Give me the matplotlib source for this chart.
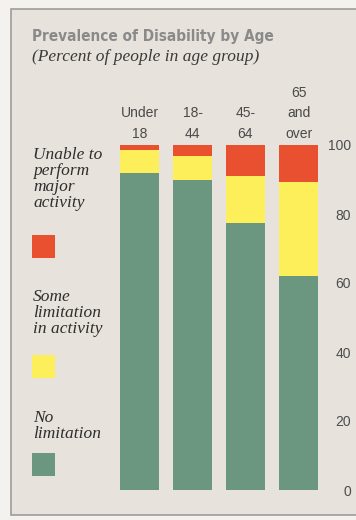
import matplotlib
matplotlib.use("Agg")
import matplotlib.pyplot as plt
from matplotlib.patches import Rectangle
from matplotlib.transforms import blended_transform_factory

# Share of people in each age group by level of disability (percent)
groups = ["Under\n18", "18-\n44", "45-\n64", "65\nand\nover"]
no_limit = [91.8, 90.0, 77.5, 62.0]
some_limit = [6.7, 6.8, 13.5, 27.2]
unable = [1.5, 3.2, 9.0, 10.8]
ticks = [0, 20, 40, 60, 80, 100]

legend_labels = ["Unable to\nperform\nmajor\nactivity",
                 "Some\nlimitation\nin activity",
                 "No\nlimitation"]

GREEN = "#6b9680"
YELLOW = "#fcef5a"
RED = "#e8502f"
PANEL = "#e7e2db"

W, H = 356, 520
fig = plt.figure(figsize=(W / 100, H / 100), dpi=100)
fig.patch.set_facecolor("#f4f2ef")


def fx(x):
    return x / W


def fy(y):
    return 1 - y / H


# framed panel behind everything
fig.patches.append(Rectangle((fx(11), fy(515)), 1.0, (515 - 9) / H,
                             transform=fig.transFigure, facecolor=PANEL,
                             edgecolor="#9c9c9c", lw=1.2, zorder=-1))

fig.text(fx(32), fy(36), "Prevalence of Disability by Age",
         family="DejaVu Sans", fontstretch="condensed", fontweight="bold",
         fontsize=11, color="#8a8a8a", va="center", ha="left")
fig.text(fx(32), fy(57), "(Percent of people in age group)",
         family="Liberation Serif", style="italic", fontsize=12.5,
         color="#3a3a3a", va="center", ha="left")

ax = fig.add_axes([fx(113), 30 / H, 212 / W, 345 / H])
ax.patch.set_visible(False)

x = list(range(len(groups)))
width = 0.736
mid = [a + b for a, b in zip(no_limit, some_limit)]
ax.bar(x, no_limit, width, color=GREEN)
ax.bar(x, some_limit, width, bottom=no_limit, color=YELLOW)
ax.bar(x, unable, width, bottom=mid, color=RED)

ax.set_xlim(-0.5, 3.5)
ax.set_ylim(0, 100)
for s in ax.spines.values():
    s.set_visible(False)
ax.set_xticks([])
ax.yaxis.tick_right()
ax.set_yticks(ticks)
ax.tick_params(axis="y", length=0, pad=18.7, labelsize=10, labelcolor="#4d4d4d")
for lab in ax.get_yticklabels():
    lab.set_ha("right")
    lab.set_family("Liberation Sans")

# age group labels above the bars
trans = blended_transform_factory(ax.transData, fig.transFigure)
for i, g in enumerate(groups):
    ax.text(i, fy(141), g, transform=trans, ha="center", va="bottom",
            multialignment="center", linespacing=1.6, fontsize=10,
            family="Liberation Sans", color="#4a4a4a")

# legend down the left side
legend_text_top = [147, 289, 410]
legend_box_top = [235, 355, 453]
for lab, ty, by, c in zip(legend_labels, legend_text_top, legend_box_top,
                          [RED, YELLOW, GREEN]):
    fig.text(fx(33), fy(ty), lab, family="Liberation Serif", style="italic",
             fontsize=12.5, linespacing=1.0, color="#2e2e2e",
             va="top", ha="left")
    fig.patches.append(Rectangle((fx(32), fy(by + 23)), 23 / W, 23 / H,
                                 transform=fig.transFigure, facecolor=c,
                                 edgecolor="none"))

fig.savefig("out.png", dpi=100, facecolor=fig.get_facecolor())
